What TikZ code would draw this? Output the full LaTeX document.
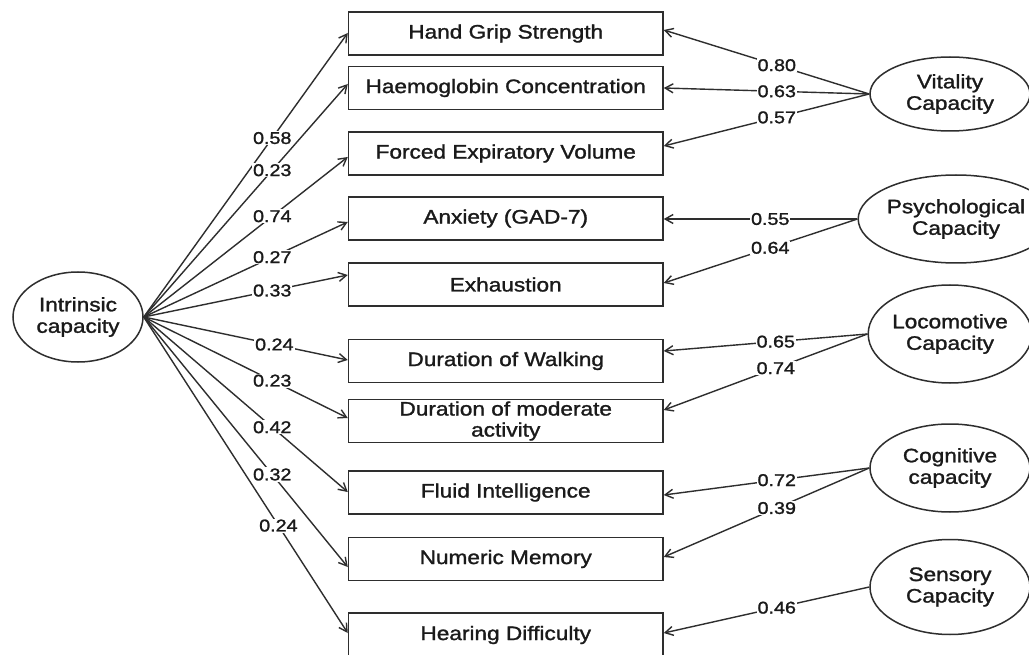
\documentclass[tikz,border=0pt]{standalone}
\usepackage{fontspec}
\setmainfont{Liberation Sans}[FakeStretch=1.16,FakeBold=1.4]
\usetikzlibrary{arrows.meta,shapes.geometric}
\definecolor{ln}{HTML}{2E2E2E}
\definecolor{tx}{HTML}{1A1A1A}
\begin{document}
\begin{tikzpicture}[x=1pt,y=-1pt,
  box/.style={draw=ln, line width=1.5pt, rectangle, minimum width=314.5pt, minimum height=43pt, inner sep=0pt, align=center, text=tx, font=\fontsize{19.5}{21}\selectfont},
  lat/.style={draw=ln, line width=1.5pt, ellipse, inner sep=0pt, align=center, text=tx, font=\fontsize{19.5}{21.5}\selectfont},
  con/.style={draw=ln, line width=1.4pt, -{Straight Barb[length=8pt,width=9pt]}},
  lab/.style={fill=white, inner sep=1pt, text=tx, font=\fontsize{17}{17}\selectfont},
]
\useasboundingbox (0,0) rectangle (1029,655);
\fill[white] (0,0) rectangle (1029,655);

% observed indicators
\node[box] (b1) at (505.75,33.5) {Hand Grip Strength};
\node[box] (b2) at (505.75,88) {Haemoglobin Concentration};
\node[box] (b3) at (505.75,153.5) {Forced Expiratory Volume};
\node[box] (b4) at (505.75,218.5) {Anxiety (GAD-7)};
\node[box] (b5) at (505.75,284.5) {Exhaustion};
\node[box] (b6) at (505.75,361) {Duration of Walking};
\node[box] (b7) at (505.75,421) {Duration of moderate\\activity};
\node[box] (b8) at (505.75,492.5) {Fluid Intelligence};
\node[box] (b9) at (505.75,559) {Numeric Memory};
\node[box, minimum height=44pt] (b10) at (505.75,635) {Hearing Difficulty};

% latent variables
\node[lat, minimum width=130pt, minimum height=90pt] (ic) at (78,317) {Intrinsic\\capacity};
\node[lat, minimum width=160pt, minimum height=74pt] (vc) at (950,94) {Vitality\\Capacity};
\node[lat, minimum width=172pt, minimum height=88pt] (pc) at (956,219) {Psychological\\Capacity};
\node[lat, minimum width=160pt, minimum height=98pt] (lc) at (950,334) {Locomotive\\Capacity};
\node[lat, minimum width=160pt, minimum height=88pt] (cc) at (950,468) {Cognitive\\capacity};
\node[lat, minimum width=160pt, minimum height=95pt] (sc) at (950,587) {Sensory\\Capacity};

% intrinsic capacity loadings
\draw[con] (ic.east) -- node[lab,pos=0.63]{0.58} ([yshift=0.5pt]b1.west);
\draw[con] (ic.east) -- node[lab,pos=0.63]{0.23} ([yshift=4pt]b2.west);
\draw[con] (ic.east) -- node[lab,pos=0.63]{0.74} ([yshift=-3.5pt]b3.west);
\draw[con] (ic.east) -- node[lab,pos=0.63]{0.27} ([yshift=-3.5pt]b4.west);
\draw[con] (ic.east) -- node[lab,pos=0.63]{0.33} ([yshift=9.5pt]b5.west);
\draw[con] (ic.east) -- node[lab,pos=0.64]{0.24} ([yshift=1pt]b6.west);
\draw[con] (ic.east) -- node[lab,pos=0.63]{0.23} ([yshift=3pt]b7.west);
\draw[con] (ic.east) -- node[lab,pos=0.63]{0.42} ([yshift=0.5pt]b8.west);
\draw[con] (ic.east) -- node[lab,pos=0.63]{0.32} ([yshift=-8pt]b9.west);
\draw[con] (ic.east) -- node[lab,pos=0.66]{0.24} ([yshift=2pt]b10.west);

% domain loadings
\draw[con] (vc.west) -- node[lab,pos=0.45]{0.80} ([yshift=3.5pt]b1.east);
\draw[con] (vc.west) -- node[lab,pos=0.45]{0.63} (b2.east);
\draw[con] (vc.west) -- node[lab,pos=0.45]{0.57} ([yshift=7.5pt]b3.east);
\draw[con] (pc.west) -- node[lab,pos=0.45]{0.55} ([yshift=-0.5pt]b4.east);
\draw[con] (pc.west) -- node[lab,pos=0.45]{0.64} ([yshift=1.5pt]b5.east);
\draw[con] (lc.west) -- node[lab,pos=0.45]{0.65} ([yshift=10pt]b6.east);
\draw[con] (lc.west) -- node[lab,pos=0.45]{0.74} ([yshift=11pt]b7.east);
\draw[con] (cc.west) -- node[lab,pos=0.45]{0.72} ([yshift=-2.5pt]b8.east);
\draw[con] (cc.west) -- node[lab,pos=0.45]{0.39} ([yshift=2pt]b9.east);
\draw[con] (sc.west) -- node[lab,pos=0.45]{0.46} ([yshift=2pt]b10.east);
\end{tikzpicture}
\end{document}
